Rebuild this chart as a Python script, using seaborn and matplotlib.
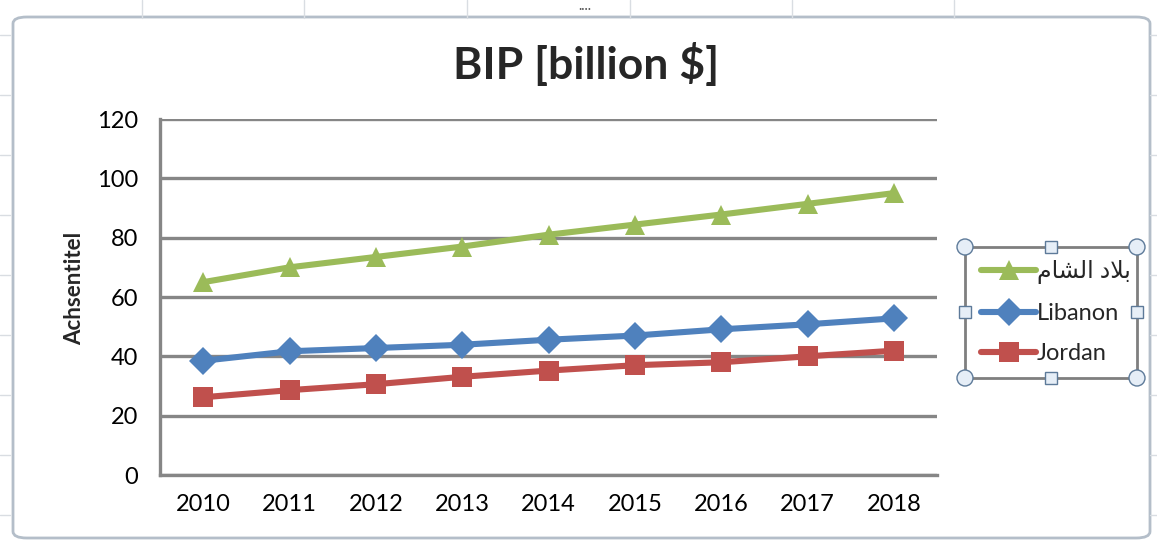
import numpy as np
import pandas as pd
import seaborn as sns
from matplotlib import pyplot as plt
from matplotlib.lines import Line2D
from matplotlib.patches import FancyBboxPatch, Rectangle, Ellipse

# data
years = [2010, 2011, 2012, 2013, 2014, 2015, 2016, 2017, 2018]
series_names = ['بلاد الشام', 'Libanon', 'Jordan']
levant = [65.0, 70.0, 73.5, 77.0, 81.0, 84.4, 87.8, 91.4, 95.0]
libanon = [38.5, 41.7, 42.8, 43.9, 45.6, 47.0, 49.1, 50.8, 52.8]
jordan = [26.2, 28.6, 30.6, 33.1, 35.2, 37.0, 38.0, 40.0, 41.9]

colors = ['#9BBB59', '#4F81BD', '#C0504D']
markers = ['^', 'D', 's']

# matplotlib does no arabic shaping -> pre-shaped presentation forms, visual order
shaped = {'بلاد الشام': '\uFEE1\uFE8E\uFEB8\uFEDF\uFE8D \uFEA9\uFEFC\uFE91'}

df = pd.DataFrame({
    'year': years * 3,
    'value': levant + libanon + jordan,
    'series': [s for s in series_names for _ in years],
})

W, H = 1157, 545
def fx(px): return px / W
def fy(py): return 1 - py / H

sns.set_theme(style='white')
plt.rcParams['font.family'] = ['Lato', 'DejaVu Sans']

fig = plt.figure(figsize=(W / 100, H / 100), dpi=100)
fig.patch.set_facecolor('white')

# excel sheet grid behind the chart
for x in [142, 304, 467, 630, 792, 954]:
    fig.add_artist(Line2D([fx(x), fx(x)], [fy(0), fy(18)], color='#d9dde2', lw=1))
for y in [35, 95, 155, 215, 275, 335, 395, 455, 515]:
    fig.add_artist(Line2D([0, fx(10)], [fy(y), fy(y)], color='#d9dde2', lw=1))
    fig.add_artist(Line2D([fx(1150), 1], [fy(y), fy(y)], color='#d9dde2', lw=1))

# chart area frame
frame = FancyBboxPatch((fx(13), fy(538)), fx(1137), (538 - 17) / H,
                       boxstyle='round,pad=0,rounding_size=0.012', transform=fig.transFigure,
                       facecolor='white', edgecolor='#b4bec9', lw=2, zorder=0)
fig.add_artist(frame)
fig.text(fx(585), fy(9), '····', ha='center', va='center', fontsize=9, color='#555555')

ax = fig.add_axes([fx(160), fy(475), fx(937 - 160), (475 - 119) / H])
ax.set_facecolor('none')

sns.lineplot(data=df, x='year', y='value', hue='series', style='series',
             hue_order=series_names, style_order=series_names,
             palette=colors, markers=markers, dashes=False,
             lw=4.4, markersize=14, markeredgewidth=0, ax=ax, legend=True)

ax.set_xlim(2009.5, 2018.5)
ax.set_ylim(0, 120)
ax.set_xticks(years)
ax.set_yticks(range(0, 121, 20))
ax.tick_params(axis='both', length=0, labelsize=17, colors='black')
ax.tick_params(axis='x', pad=14)
ax.tick_params(axis='y', pad=16)
ax.yaxis.grid(True, color='#868686', lw=2.4)
ax.set_axisbelow(True)
for s in ['top', 'right']:
    ax.spines[s].set_visible(False)
for s in ['left', 'bottom']:
    ax.spines[s].set_color('#868686')
    ax.spines[s].set_linewidth(2.4)

ax.set_xlabel('')
ax.set_ylabel('')
fig.text(fx(75), fy(288), 'Achsentitel', rotation=90, ha='center', va='center',
         fontsize=16, fontweight='bold')
fig.text(fx(586), fy(64), 'BIP [billion $]', ha='center', va='center',
         fontsize=32, fontweight='bold')

handles, labels = ax.get_legend_handles_labels()
labels = [shaped.get(l, l) for l in labels]
ax.legend(handles, labels, loc='center left', bbox_to_anchor=(fx(972), fy(312)),
          bbox_transform=fig.transFigure, frameon=False, fontsize=17,
          handlelength=2.3, handletextpad=0.05, labelspacing=0.8, borderaxespad=0)

# legend box with selection handles
fig.add_artist(Rectangle((fx(965), fy(378)), fx(1137 - 965), (378 - 247) / H,
                         transform=fig.transFigure, fill=False, edgecolor='#7f7f7f', lw=2))
for cx, cy in [(965, 247), (1137, 247), (965, 378), (1137, 378)]:
    fig.add_artist(Ellipse((fx(cx), fy(cy)), fx(16), 16 / H, transform=fig.transFigure,
                           facecolor='#e6eef7', edgecolor='#5d7a99', lw=1))
for cx, cy in [(1051, 247), (1051, 378), (965, 312), (1137, 312)]:
    fig.add_artist(Rectangle((fx(cx - 6), fy(cy + 6)), fx(12), 12 / H, transform=fig.transFigure,
                             facecolor='#e6eef7', edgecolor='#5d7a99', lw=1))

fig.savefig('out.png', dpi=100)
